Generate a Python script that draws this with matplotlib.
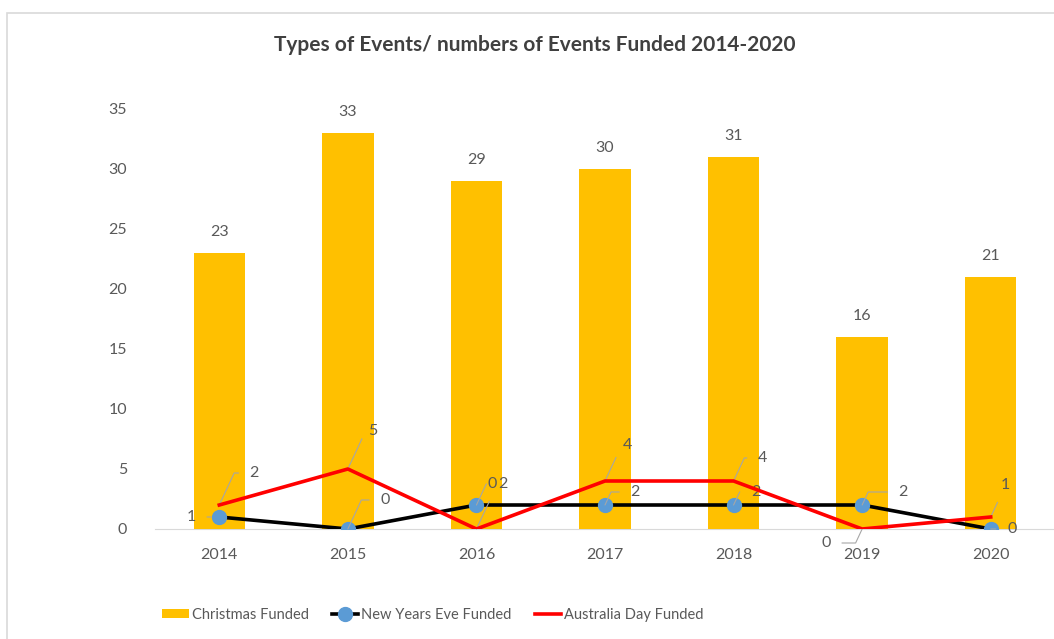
import numpy as np
import matplotlib.pyplot as plt
from matplotlib.patches import Rectangle

years = ["2014", "2015", "2016", "2017", "2018", "2019", "2020"]
christmas = [23, 33, 29, 30, 31, 16, 21]
new_years_eve = [1, 0, 2, 2, 2, 2, 0]
australia_day = [2, 5, 0, 4, 4, 0, 1]

# label offsets in pixels (dx, dy) for the two line series
nye_offsets = [(-28, 0), (37, 29), (26, 21), (30, 13), (22, 13), (41, 13), (21, 0)]
aus_offsets = [(35, 32), (25, 38), (16, 45), (22, 36), (29, 23), (-36, -14), (15, 32)]

text_color = "#595959"
plt.rcParams["font.family"] = ["Lato", "DejaVu Sans"]

fig = plt.figure(figsize=(10.54, 6.39), dpi=100)
W, H = 1054, 639
ax = fig.add_axes([155 / W, 110 / H, 900 / W, 420 / H])

x = np.arange(len(years))
bars = ax.bar(x, christmas, width=0.4, color="#FFC000", label="Christmas Funded", zorder=2)
nye_line, = ax.plot(x, new_years_eve, color="black", linewidth=2.6, marker="o", markersize=10,
                    markerfacecolor="#5B9BD5", markeredgecolor="#5B9BD5",
                    label="New Years Eve Funded", zorder=3)
aus_line, = ax.plot(x, australia_day, color="#FF0000", linewidth=2.6,
                    label="Australia Day Funded", zorder=4)

# bar value labels
for xi, v in zip(x, christmas):
    ax.annotate(str(v), (xi, v), xytext=(0, 14), textcoords="offset pixels",
                ha="center", va="bottom", fontsize=11.5, color=text_color)

def leader_labels(values, offsets):
    for xi, v, (dx, dy) in zip(x, values, offsets):
        if dy == 0:
            props = dict(arrowstyle="-", color="#A6A6A6", lw=0.8, shrinkA=6, shrinkB=6)
        else:
            props = dict(arrowstyle="-", color="#A6A6A6", lw=0.8,
                         connectionstyle="angle,angleA=0,angleB=65,rad=0",
                         shrinkA=6, shrinkB=0)
        ax.annotate(str(v), (xi, v), xytext=(dx, dy), textcoords="offset pixels",
                    ha="center", va="center", fontsize=11.5, color=text_color,
                    arrowprops=props)

leader_labels(new_years_eve, nye_offsets)
leader_labels(australia_day, aus_offsets)

ax.set_xlim(-0.5, 6.5)
ax.set_ylim(0, 35)
ax.set_yticks(np.arange(0, 36, 5))
ax.set_xticks(x)
ax.set_xticklabels(years)
ax.tick_params(axis="both", length=0, labelsize=11.5, colors=text_color)
ax.tick_params(axis="x", pad=14)
ax.tick_params(axis="y", pad=20)
for side in ["top", "right", "left"]:
    ax.spines[side].set_visible(False)
ax.spines["bottom"].set_color("#D9D9D9")
ax.spines["bottom"].set_zorder(1)

fig.text(535 / W, 1 - 45 / H, "Types of Events/ numbers of Events Funded 2014-2020",
         ha="center", va="center", fontsize=15, fontweight="bold", color="#404040")

fig.legend(handles=[bars, nye_line, aus_line], loc="center",
           bbox_to_anchor=(433 / W, 1 - 615 / H), ncol=3, frameon=False,
           fontsize=10.5, labelcolor=text_color, handlelength=1.8, handleheight=0.6,
           columnspacing=1.6, handletextpad=0.2)

# chart frame
fig.patches.append(Rectangle((7 / W, -0.01), 1.1, 1 - 13 / H + 0.01, transform=fig.transFigure,
                             fill=False, edgecolor="#D9D9D9", linewidth=1.2))

fig.savefig("out.png", dpi=100)
